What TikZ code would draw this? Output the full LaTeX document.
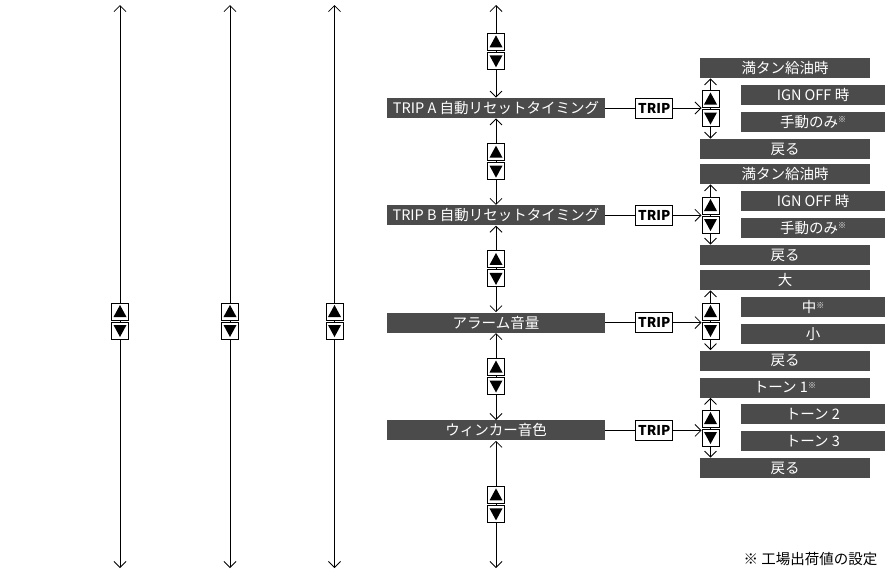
\documentclass[tikz,border=0pt]{standalone}
\usepackage{fontspec}
\newfontfamily\jpfont{Noto Sans CJK JP}
\usepackage{tikz}
\usetikzlibrary{positioning,calc,arrows.meta}
\usepackage{xcolor}
\definecolor{menugray}{HTML}{4B4B4B}

\newcommand{\kome}{\raisebox{4.5pt}{\fontsize{8}{8}\selectfont ※}}
\newcommand{\updown}[2]{%
  \node[upkey] (#1u) at ([yshift=9.5pt]#2) {};
  \node[downkey] (#1d) at ([yshift=-9.5pt]#2) {};%
}

\begin{document}
\begin{tikzpicture}[%
    x=1pt, y=-1pt,
    >={Straight Barb[length=6pt,width=12pt]},
    line width=0.8pt,
    font=\jpfont\fontsize{14.5}{17}\selectfont,
    menu/.style={%
      fill=menugray,
      text=white,
      inner sep=0pt,
      minimum height=20pt
    },
    mainitem/.style={menu, minimum width=218pt},
    subitem/.style={menu, minimum width=170pt},
    subopt/.style={menu, minimum width=144pt},
    tripkey/.style={%
      draw,
      fill=white,
      inner sep=0pt,
      minimum width=37pt,
      minimum height=20pt,
      font=\jpfont\bfseries\fontsize{13.5}{15}\selectfont
    },
    upkey/.style={%
      draw, fill=white, line width=1pt, inner sep=0pt, minimum size=17pt,
      path picture={\fill[black] ([shift={(-6.5,5.5)}]path picture bounding box.center)
        -- ([shift={(6.5,5.5)}]path picture bounding box.center)
        -- ([shift={(0,-6.5)}]path picture bounding box.center) -- cycle;}
    },
    downkey/.style={%
      draw, fill=white, line width=1pt, inner sep=0pt, minimum size=17pt,
      path picture={\fill[black] ([shift={(-6.5,-5.5)}]path picture bounding box.center)
        -- ([shift={(6.5,-5.5)}]path picture bounding box.center)
        -- ([shift={(0,6.5)}]path picture bounding box.center) -- cycle;}
    }
  ]
    \useasboundingbox (0,0) rectangle (889,574);

    % main menu column
    \node[mainitem] (tA) at (496,108)            {TRIP A 自動リセットタイミング};
    \node[mainitem] (tB) [below=86.5pt of tA]    {TRIP B 自動リセットタイミング};
    \node[mainitem] (tC) [below=86.5pt of tB]    {アラーム音量};
    \node[mainitem] (tD) [below=87pt of tC]      {ウィンカー音色};

    \node[tripkey] (kA) [right=30pt of tA] {TRIP};
    \node[tripkey] (kB) [right=30pt of tB] {TRIP};
    \node[tripkey] (kC) [right=30pt of tC] {TRIP};
    \node[tripkey] (kD) [right=30pt of tD] {TRIP};

    % sub menus
    \node[subitem] (mA) at (785,68)  {満タン給油時};
    \node[subopt]  (iA) at (813,95)  {IGN OFF 時};
    \node[subopt]  (hA) at (813,122) {手動のみ\kome};
    \node[subitem] (bA) at (785,149) {戻る};

    \node[subitem] (mB) at (785,174) {満タン給油時};
    \node[subopt]  (iB) at (813,201) {IGN OFF 時};
    \node[subopt]  (hB) at (813,228) {手動のみ\kome};
    \node[subitem] (bB) at (785,255) {戻る};

    \node[subitem] (mC) at (785,280) {大};
    \node[subopt]  (iC) at (813,307) {中\kome};
    \node[subopt]  (hC) at (813,334) {小};
    \node[subitem] (bC) at (785,360.5) {戻る};

    \node[subitem] (mD) at (785,387.5) {トーン 1\kome};
    \node[subopt]  (iD) at (813,414) {トーン 2};
    \node[subopt]  (hD) at (813,441) {トーン 3};
    \node[subitem] (bD) at (785,468) {戻る};

    \node[anchor=east] (note) at (881,559) {※ 工場出荷値の設定};

    \coordinate (top) at (496,5);
    \coordinate (bot) at (496,568);
    \coordinate (l1t) at (120,5);   \coordinate (l1b) at (120,568);
    \coordinate (l2t) at (230,5);   \coordinate (l2b) at (230,568);
    \coordinate (l3t) at (334.5,5); \coordinate (l3b) at (334.5,568);
    \coordinate (pA) at (710.5,108.5);
    \coordinate (pB) at (710.5,215);
    \coordinate (pC) at (710.5,321);
    \coordinate (pD) at (710.5,428);

    \path[<->] (top) edge (tA)
          (tA) edge (tB)
          (tB) edge (tC)
          (tC) edge (tD)
          (tD) edge (bot)
          (l1t) edge (l1b)
          (l2t) edge (l2b)
          (l3t) edge (l3b)
          (mA.south -| pA) edge (bA.north -| pA)
          (mB.south -| pB) edge (bB.north -| pB)
          (mC.south -| pC) edge (bC.north -| pC)
          (mD.south -| pD) edge (bD.north -| pD)
          ;

    % up/down keys
    \coordinate (m1) at ($(top)!.5!(tA.north)$);
    \coordinate (m2) at ($(tA.south)!.5!(tB.north)$);
    \coordinate (m3) at ($(tB.south)!.5!(tC.north)$);
    \coordinate (m4) at ($(tC.south)!.5!(tD.north)$);
    \coordinate (m5) at ($(tD.south)!.5!(bot)$);
    \updown{k1}{m1} \updown{k2}{m2} \updown{k3}{m3}
    \updown{k4}{m4} \updown{k5}{m5}
    \updown{l1}{120,321} \updown{l2}{230,321} \updown{l3}{334.5,321}
    \updown{sA}{pA} \updown{sB}{pB} \updown{sC}{pC} \updown{sD}{pD}

    \path (tA) edge (kA)
          (tB) edge (kB)
          (tC) edge (kC)
          (tD) edge (kD);
    \path[->] (kA) edge (kA -| sAu.west)
          (kB) edge (kB -| sBu.west)
          (kC) edge (kC -| sCu.west)
          (kD) edge (kD -| sDu.west);
  \end{tikzpicture}
\end{document}
